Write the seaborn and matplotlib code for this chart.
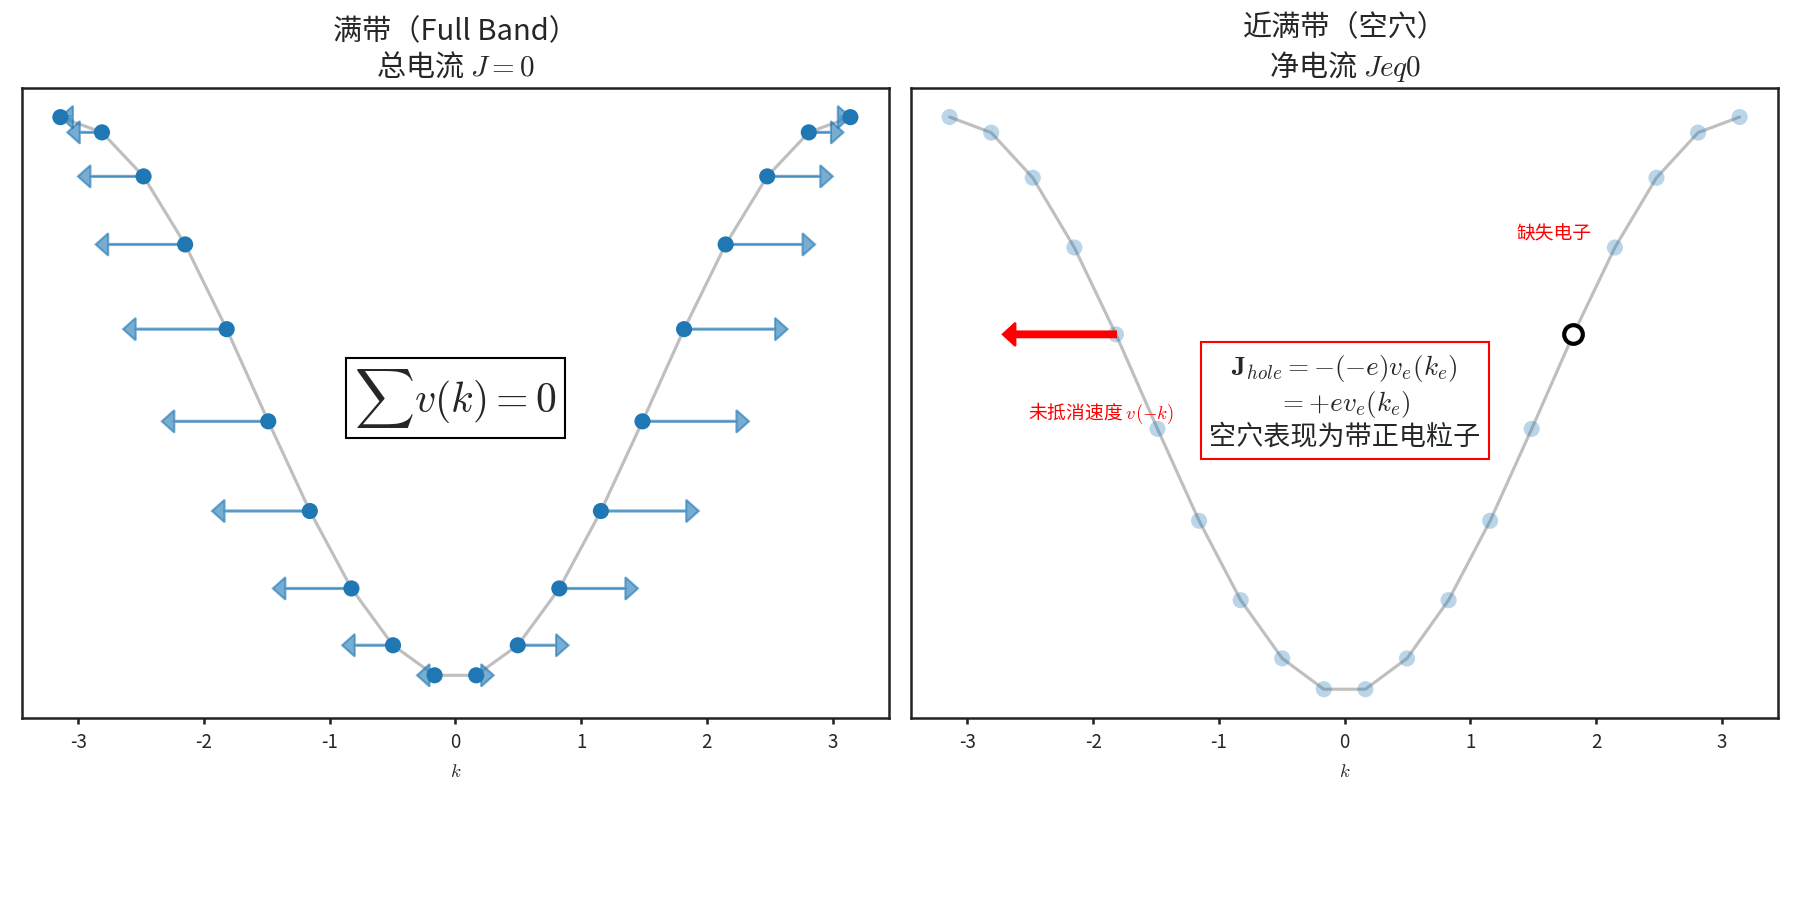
import numpy as np
import matplotlib
matplotlib.use("Agg")
import matplotlib.pyplot as plt
import seaborn as sns
import pandas as pd

sns.set_theme(style="white")
plt.rcParams['font.family'] = ['Noto Sans CJK SC', 'DejaVu Sans']
plt.rcParams['axes.unicode_minus'] = False
plt.rcParams['mathtext.fontset'] = 'cm'

k = np.linspace(-np.pi, np.pi, 20)
E = -np.cos(k)
v = np.sin(k)
missing_idx = 15
arrow_scale = 0.85
blue = "#1f77b4"

titles = ["满带（Full Band）\n总电流 $J=0$", "近满带（空穴）\n净电流 $Jeq0$"]

df = pd.DataFrame({"k": k, "E": E})

fig, axes = plt.subplots(1, 2, figsize=(12, 6), dpi=150)

# left
ax = axes[0]
sns.lineplot(data=df, x="k", y="E", ax=ax, color="gray", alpha=0.5, zorder=1)
for ki, ei, vi in zip(k, E, v):
    ax.arrow(ki, ei, arrow_scale * vi, 0, color=blue, alpha=0.6, width=0.004,
             head_width=0.08, head_length=0.1, length_includes_head=True, zorder=2)
sns.scatterplot(data=df, x="k", y="E", ax=ax, color=blue, s=60, zorder=3, edgecolor="none")
ax.text(0, 0.0, r"$\sum v(k)=0$", fontsize=20, ha="center", va="center",
        bbox=dict(facecolor="white", edgecolor="black"))
ax.set_ylim(-1.139, 1.103)

# right
ax = axes[1]
sns.lineplot(data=df, x="k", y="E", ax=ax, color="gray", alpha=0.5, zorder=1)
mask = np.arange(len(k)) != missing_idx
sns.scatterplot(data=df[mask], x="k", y="E", ax=ax, color=blue, alpha=0.3, s=60, zorder=3, edgecolor="none")
ax.scatter(k[missing_idx], E[missing_idx], s=80, facecolor="white", edgecolor="black", linewidth=2, zorder=4)
ax.text(k[missing_idx] - 0.15, E[missing_idx] + 0.33, "缺失电子", color="red", fontsize=9, ha="center")
mi = len(k) - 1 - missing_idx
ax.arrow(k[mi], E[mi], -0.9, 0, color="red", width=0.02, head_width=0.08, head_length=0.1,
         length_includes_head=True, zorder=3)
ax.text(-2.52, -0.03, "未抵消速度 $v(-k)$", color="red", fontsize=9, ha="left", va="center", zorder=2)
ax.text(0.0, 0.01, r"$\mathbf{J}_{hole}=-(-e)v_e(k_e)$" + "\n" + r"$=+ev_e(k_e)$" + "\n空穴表现为带正电粒子",
        fontsize=13, ha="center", va="center", zorder=5,
        bbox=dict(facecolor="white", edgecolor="red"))
ax.set_ylim(-1.087, 1.10)

for ax, t in zip(axes, titles):
    ax.set_title(t, fontsize=14)
    ax.set_xlabel("$k$", fontsize=9)
    ax.set_ylabel("")
    ax.set_yticks([])
    ax.tick_params(axis="x", labelsize=9, bottom=True, length=3)
    ax.set_xlim(-3.45, 3.45)
    for s in ax.spines.values():
        s.set_edgecolor("#222222")
        s.set_linewidth(1.2)

plt.subplots_adjust(left=0.012, right=0.988, top=0.902, bottom=0.202 - 0.0)
plt.subplots_adjust(bottom=0.203, wspace=0.025)
plt.subplots_adjust(bottom=(900 - 718) / 900 * 0 + 0.2)
plt.subplots_adjust(bottom=0.202)
plt.savefig("out.png")
